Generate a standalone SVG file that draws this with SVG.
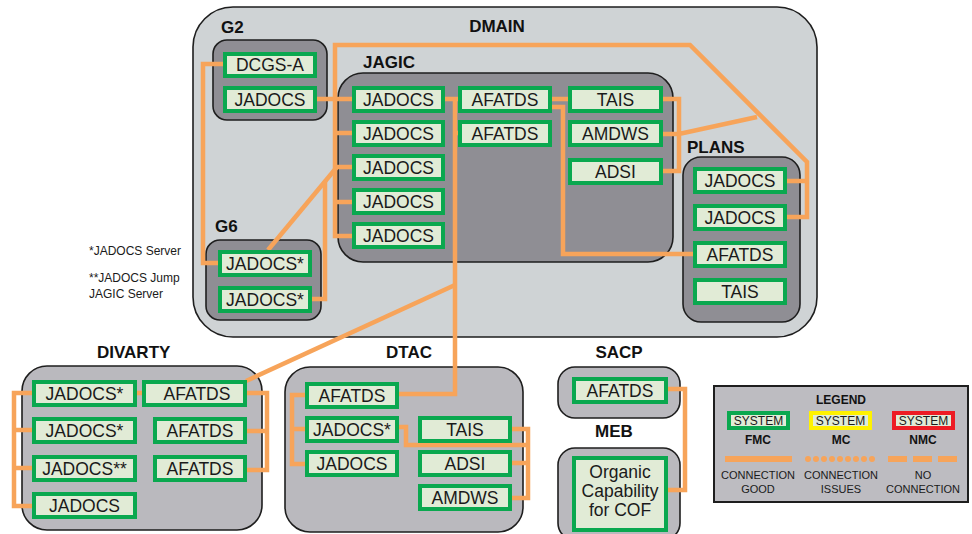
<svg xmlns="http://www.w3.org/2000/svg" width="972" height="534" viewBox="0 0 972 534">
<style>
.bg{fill:#ffffff}
.outer{fill:#cfd3d5;stroke:#1e1e1e;stroke-width:1.6}
.inner{fill:#8f8e94;stroke:#1e1e1e;stroke-width:1.6}
.mid{fill:#bab9be;stroke:#1e1e1e;stroke-width:1.6}
.node{fill:#e1ebd6;stroke:#0aa84f;stroke-width:4}
.nt{font-family:"Liberation Sans",Arial,sans-serif;font-size:17.5px;fill:#1a1a1a;text-anchor:middle}
.gl{font-family:"Liberation Sans",Arial,sans-serif;font-size:17px;font-weight:bold;fill:#111}
.note{font-family:"Liberation Sans",Arial,sans-serif;font-size:12px;fill:#1a1a1a}
.conn{fill:none;stroke:#f7a45a;stroke-width:4.5;stroke-linejoin:miter}
.lt{font-family:"Liberation Sans",Arial,sans-serif;font-size:11px;fill:#1a1a1a;text-anchor:middle}
.lb{font-family:"Liberation Sans",Arial,sans-serif;font-size:12px;font-weight:bold;fill:#111;text-anchor:middle}
.ls{font-family:"Liberation Sans",Arial,sans-serif;font-size:12px;fill:#1a1a1a;text-anchor:middle}
</style>
<rect class="bg" x="0" y="0" width="972" height="534"/>

<!-- Containers -->
<g id="DMAIN">
<rect class="outer" x="193" y="7" width="624" height="330" rx="40"/>
<text class="gl" x="497" y="32" text-anchor="middle">DMAIN</text>
</g>
<g id="G2">
<rect class="inner" x="213" y="40" width="114" height="80" rx="14"/>
<text class="gl" x="221" y="33">G2</text>
</g>
<g id="JAGIC">
<rect class="inner" x="338" y="73" width="335" height="189" rx="25"/>
<text class="gl" x="363" y="68">JAGIC</text>
</g>
<g id="PLANS">
<rect class="inner" x="683" y="157" width="117" height="165" rx="18"/>
<text class="gl" x="687" y="153">PLANS</text>
</g>
<g id="G6">
<rect class="inner" x="206" y="240" width="115" height="80" rx="14"/>
<text class="gl" x="215" y="232">G6</text>
</g>
<g id="DIVARTY">
<rect class="mid" x="22" y="366" width="240" height="164" rx="25"/>
<text class="gl" x="97" y="358">DIVARTY</text>
</g>
<g id="DTAC">
<rect class="mid" x="285" y="367" width="238" height="165" rx="25"/>
<text class="gl" x="386" y="358">DTAC</text>
</g>
<g id="SACP">
<rect class="mid" x="558" y="367" width="122" height="51" rx="17"/>
<text class="gl" x="619" y="358" text-anchor="middle">SACP</text>
</g>
<g id="MEB">
<rect class="mid" x="558" y="448" width="122" height="92" rx="17"/>
<text class="gl" x="614" y="437" text-anchor="middle">MEB</text>
</g>

<!-- Notes -->
<text class="note" x="89" y="255">*JADOCS Server</text>
<text class="note" x="89" y="282">**JADOCS Jump</text>
<text class="note" x="89" y="298">JAGIC Server</text>

<!-- Connectors -->
<g id="connectors">
<path class="conn" d="M225,64 H203 V263 H220"/>
<path class="conn" d="M315,99 H354"/>
<path class="conn" d="M335,99 V45 H690 L807,162 V217 H785"/>
<path class="conn" d="M807,181 H785"/>
<path class="conn" d="M335,99 V236 H354 M335,133 H354 M335,167 H354 M335,202 H354"/>
<path class="conn" d="M268,250 L337,167"/>
<path class="conn" d="M325,181 V299 H310"/>
<path class="conn" d="M443,99 H460 M455,99 V394 H397 M455,133 H460"/>
<path class="conn" d="M455,285 L246,381"/>
<path class="conn" d="M550,99 H570"/>
<path class="conn" d="M550,107 H563 V254 H695"/>
<path class="conn" d="M661,99 H679 V171 H661 M661,134 H679 L757,117"/>
<path class="conn" d="M34,393 H14 V506 H34 M14,430 H34 M14,468 H34 M135,393 H144"/>
<path class="conn" d="M245,393 H267 V470 H245 M245,431 H267"/>
<path class="conn" d="M307,395 H292 V464 H307 M292,429 H307"/>
<path class="conn" d="M397,427 H406 V445 H528 M510,429 H528 V498 H510 M510,463 H528"/>
<path class="conn" d="M666,389 H685 V490 H666"/>
</g>

<!-- G2 nodes -->
<g id="G2_DCGSA"><rect class="node" x="225" y="54" width="90" height="22"/><text class="nt" x="270" y="71">DCGS-A</text></g>
<g id="G2_JADOCS"><rect class="node" x="225" y="88" width="90" height="23"/><text class="nt" x="270" y="105.5">JADOCS</text></g>

<!-- JAGIC nodes -->
<g id="JAGIC_JADOCS1"><rect class="node" x="354" y="88" width="89" height="23"/><text class="nt" x="398.5" y="105.5">JADOCS</text></g>
<g id="JAGIC_JADOCS2"><rect class="node" x="354" y="122" width="89" height="23"/><text class="nt" x="398.5" y="139.5">JADOCS</text></g>
<g id="JAGIC_JADOCS3"><rect class="node" x="354" y="156" width="89" height="23"/><text class="nt" x="398.5" y="173.5">JADOCS</text></g>
<g id="JAGIC_JADOCS4"><rect class="node" x="354" y="190" width="89" height="23"/><text class="nt" x="398.5" y="207.5">JADOCS</text></g>
<g id="JAGIC_JADOCS5"><rect class="node" x="354" y="224" width="89" height="23"/><text class="nt" x="398.5" y="241.5">JADOCS</text></g>
<g id="JAGIC_AFATDS1"><rect class="node" x="460" y="88" width="90" height="23"/><text class="nt" x="505" y="105.5">AFATDS</text></g>
<g id="JAGIC_AFATDS2"><rect class="node" x="460" y="122" width="90" height="23"/><text class="nt" x="505" y="139.5">AFATDS</text></g>
<g id="JAGIC_TAIS"><rect class="node" x="570" y="88" width="91" height="23"/><text class="nt" x="615.5" y="105.5">TAIS</text></g>
<g id="JAGIC_AMDWS"><rect class="node" x="570" y="122" width="91" height="23"/><text class="nt" x="615.5" y="139.5">AMDWS</text></g>
<g id="JAGIC_ADSI"><rect class="node" x="570" y="160" width="91" height="23"/><text class="nt" x="615.5" y="177.5">ADSI</text></g>

<!-- PLANS nodes -->
<g id="PLANS_JADOCS1"><rect class="node" x="695" y="169" width="90" height="23"/><text class="nt" x="740" y="186.5">JADOCS</text></g>
<g id="PLANS_JADOCS2"><rect class="node" x="695" y="206" width="90" height="23"/><text class="nt" x="740" y="223.5">JADOCS</text></g>
<g id="PLANS_AFATDS"><rect class="node" x="695" y="243" width="90" height="23"/><text class="nt" x="740" y="260.5">AFATDS</text></g>
<g id="PLANS_TAIS"><rect class="node" x="695" y="280" width="90" height="23"/><text class="nt" x="740" y="297.5">TAIS</text></g>

<!-- G6 nodes -->
<g id="G6_JADOCS1"><rect class="node" x="220" y="252" width="90" height="23"/><text class="nt" x="265" y="269.5">JADOCS*</text></g>
<g id="G6_JADOCS2"><rect class="node" x="220" y="288" width="90" height="23"/><text class="nt" x="265" y="305.5">JADOCS*</text></g>

<!-- DIVARTY nodes -->
<g id="DIV_JADOCS1"><rect class="node" x="34" y="382" width="101" height="23"/><text class="nt" x="84.5" y="399.5">JADOCS*</text></g>
<g id="DIV_JADOCS2"><rect class="node" x="34" y="419" width="101" height="23"/><text class="nt" x="84.5" y="436.5">JADOCS*</text></g>
<g id="DIV_JADOCS3"><rect class="node" x="34" y="457" width="101" height="23"/><text class="nt" x="84.5" y="474.5">JADOCS**</text></g>
<g id="DIV_JADOCS4"><rect class="node" x="34" y="494" width="101" height="23"/><text class="nt" x="84.5" y="511.5">JADOCS</text></g>
<g id="DIV_AFATDS1"><rect class="node" x="144" y="382" width="101" height="23"/><text class="nt" x="197" y="399.5">AFATDS</text></g>
<g id="DIV_AFATDS2"><rect class="node" x="155" y="419" width="90" height="23"/><text class="nt" x="200" y="436.5">AFATDS</text></g>
<g id="DIV_AFATDS3"><rect class="node" x="155" y="457" width="90" height="23"/><text class="nt" x="200" y="474.5">AFATDS</text></g>

<!-- DTAC nodes -->
<g id="DTAC_AFATDS"><rect class="node" x="307" y="384" width="90" height="23"/><text class="nt" x="352" y="401.5">AFATDS</text></g>
<g id="DTAC_JADOCS1"><rect class="node" x="307" y="418" width="90" height="23"/><text class="nt" x="352" y="435.5">JADOCS*</text></g>
<g id="DTAC_JADOCS2"><rect class="node" x="307" y="452" width="90" height="23"/><text class="nt" x="352" y="469.5">JADOCS</text></g>
<g id="DTAC_TAIS"><rect class="node" x="420" y="418" width="90" height="23"/><text class="nt" x="465" y="435.5">TAIS</text></g>
<g id="DTAC_ADSI"><rect class="node" x="420" y="452" width="90" height="23"/><text class="nt" x="465" y="469.5">ADSI</text></g>
<g id="DTAC_AMDWS"><rect class="node" x="420" y="486" width="90" height="23"/><text class="nt" x="465" y="503.5">AMDWS</text></g>

<!-- SACP / MEB nodes -->
<g id="SACP_AFATDS"><rect class="node" x="574" y="379" width="92" height="23"/><text class="nt" x="620" y="396.5">AFATDS</text></g>
<g id="MEB_COF"><rect class="node" x="574" y="458" width="92" height="72"/>
<text class="nt" x="620" y="478">Organic</text>
<text class="nt" x="620" y="497">Capability</text>
<text class="nt" x="620" y="516">for COF</text></g>

<!-- Legend -->
<g id="legend">
<rect x="714" y="386" width="254" height="116" fill="#bdbcc1" stroke="#1e1e1e" stroke-width="2"/>
<text class="lb" x="841" y="404">LEGEND</text>
<rect x="729" y="413" width="59" height="15" fill="#e1ebd6" stroke="#0aa84f" stroke-width="4"/>
<rect x="811" y="413" width="59" height="15" fill="#e1ebd6" stroke="#fff200" stroke-width="4"/>
<rect x="894" y="413" width="59" height="15" fill="#e1ebd6" stroke="#ed1c24" stroke-width="4"/>
<text class="ls" x="758.5" y="425">SYSTEM</text>
<text class="ls" x="840.5" y="425">SYSTEM</text>
<text class="ls" x="923.5" y="425">SYSTEM</text>
<text class="lb" x="758" y="444">FMC</text>
<text class="lb" x="841" y="444">MC</text>
<text class="lb" x="923" y="444">NMC</text>
<path d="M725,459 H792" stroke="#f7a45a" stroke-width="6" fill="none"/>
<path d="M808,459 H876" stroke="#f7a45a" stroke-width="6" stroke-linecap="round" stroke-dasharray="0 8" fill="none"/>
<path d="M888,459 H957" stroke="#f7a45a" stroke-width="6" stroke-dasharray="19 6" fill="none"/>
<text class="lt" x="758" y="479">CONNECTION</text>
<text class="lt" x="758" y="493">GOOD</text>
<text class="lt" x="841" y="479">CONNECTION</text>
<text class="lt" x="841" y="493">ISSUES</text>
<text class="lt" x="923" y="479">NO</text>
<text class="lt" x="923" y="493">CONNECTION</text>
</g>
</svg>
